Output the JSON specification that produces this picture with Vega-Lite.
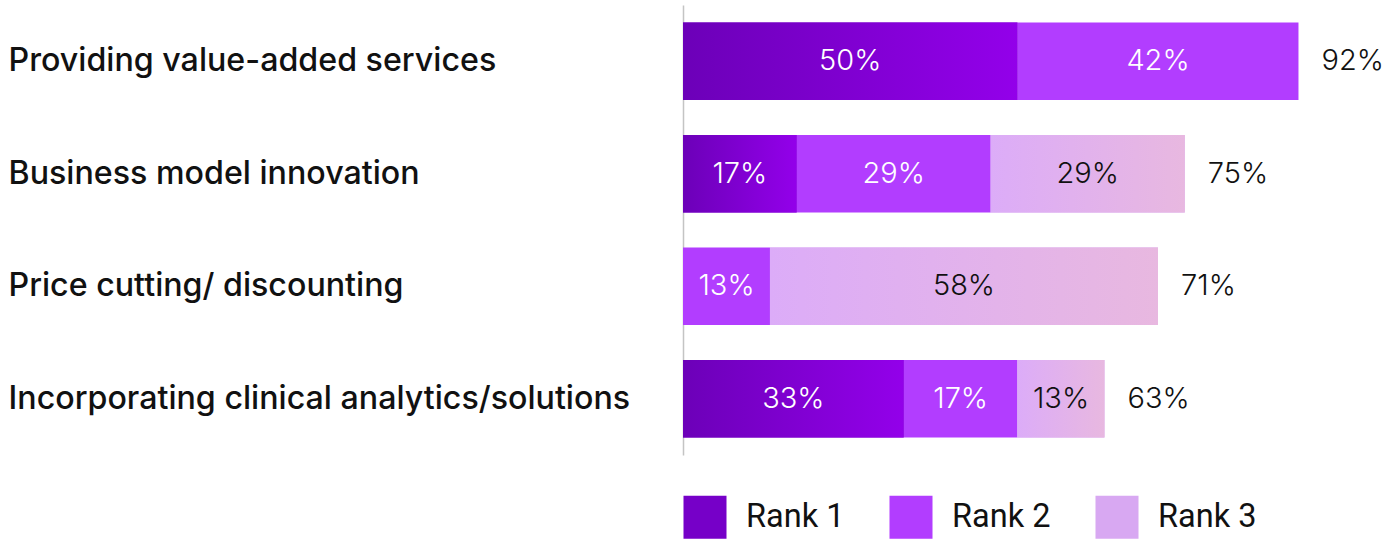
{
  "$schema": "https://vega.github.io/schema/vega-lite/v6.json",
  "autosize": {"type": "none"},
  "padding": {"left": 683, "top": 5, "right": 33, "bottom": 84},
  "width": 669,
  "height": 450,
  "background": "white",
  "datasets": {
    "bars": [
      {"cat": "Providing value-added services", "rank": "Rank 1", "value": 50, "label": "50%"},
      {"cat": "Providing value-added services", "rank": "Rank 2", "value": 42, "label": "42%"},
      {"cat": "Business model innovation", "rank": "Rank 1", "value": 17, "label": "17%"},
      {"cat": "Business model innovation", "rank": "Rank 2", "value": 29, "label": "29%"},
      {"cat": "Business model innovation", "rank": "Rank 3", "value": 29, "label": "29%"},
      {"cat": "Price cutting/ discounting", "rank": "Rank 2", "value": 13, "label": "13%"},
      {"cat": "Price cutting/ discounting", "rank": "Rank 3", "value": 58, "label": "58%"},
      {"cat": "Incorporating clinical analytics/solutions", "rank": "Rank 1", "value": 33, "label": "33%"},
      {"cat": "Incorporating clinical analytics/solutions", "rank": "Rank 2", "value": 17, "label": "17%"},
      {"cat": "Incorporating clinical analytics/solutions", "rank": "Rank 3", "value": 13, "label": "13%"}
    ],
    "totals": [
      {"cat": "Providing value-added services", "total": 92, "label": "92%"},
      {"cat": "Business model innovation", "total": 75, "label": "75%"},
      {"cat": "Price cutting/ discounting", "total": 71, "label": "71%"},
      {"cat": "Incorporating clinical analytics/solutions", "total": 63, "label": "63%"}
    ]
  },
  "config": {"view": {"stroke": null}},
  "encoding": {
    "y": {
      "field": "cat",
      "type": "nominal",
      "sort": ["Providing value-added services", "Business model innovation", "Price cutting/ discounting", "Incorporating clinical analytics/solutions"],
      "title": null,
      "scale": {"paddingInner": 0.31, "paddingOuter": 0.155},
      "axis": {
        "domain": true,
        "domainColor": "#c4c4c4",
        "domainWidth": 1.5,
        "ticks": false,
        "labelAlign": "left",
        "labelPadding": 675,
        "labelFont": "Inter",
        "labelFontSize": 32.2,
        "labelFontWeight": 500,
        "labelColor": "#111111",
        "labelLimit": 700
      }
    }
  },
  "layer": [
    {
      "data": {"name": "bars"},
      "mark": {"type": "bar"},
      "encoding": {
        "x": {"field": "value", "type": "quantitative", "stack": "zero", "scale": {"domain": [0, 100]}, "axis": null},
        "color": {
          "field": "rank",
          "type": "nominal",
          "scale": {"domain": ["Rank 1", "Rank 2", "Rank 3"], "range": ["#7600c8", "#b23dff", "#d8a8f2"]},
          "legend": {
            "orient": "none",
            "legendX": 0,
            "legendY": 490,
            "direction": "horizontal",
            "title": null,
            "symbolType": "square",
            "symbolSize": 1850,
            "symbolStrokeWidth": 0,
            "labelFont": "Roboto",
            "labelFontSize": 32.5,
            "labelColor": "#111111",
            "labelOffset": 19,
            "columnPadding": 44,
            "symbolOpacity": 1
          }
        }
      }
    },
    {
      "data": {"name": "bars"},
      "transform": [
        {"filter": "datum.rank === 'Rank 1'"}
      ],
      "mark": {"type": "bar", "color": {"gradient": "linear", "x1": 0, "y1": 0, "x2": 1, "y2": 0, "stops": [{"offset": 0, "color": "#6c00b8"}, {"offset": 1, "color": "#9300ea"}]}},
      "encoding": {
        "x": {"field": "value", "type": "quantitative", "stack": "zero"}
      }
    },
    {
      "data": {"name": "bars"},
      "transform": [
        {"stack": "value", "groupby": ["cat"], "sort": [{"field": "rank", "order": "ascending"}], "as": ["v0", "v1"]},
        {"filter": "datum.rank === 'Rank 3'"}
      ],
      "mark": {"type": "bar", "color": {"gradient": "linear", "x1": 0, "y1": 0, "x2": 1, "y2": 0, "stops": [{"offset": 0, "color": "#dcacf8"}, {"offset": 1, "color": "#e8b8e0"}]}},
      "encoding": {
        "x": {"field": "v0", "type": "quantitative"},
        "x2": {"field": "v1"}
      }
    },
    {
      "data": {"name": "bars"},
      "transform": [
        {"stack": "value", "groupby": ["cat"], "sort": [{"field": "rank", "order": "ascending"}], "as": ["v0", "v1"]},
        {"calculate": "(datum.v0 + datum.v1) / 2", "as": "mid"}
      ],
      "mark": {"type": "text", "font": "Inter", "fontSize": 29, "fontWeight": 300, "align": "center", "baseline": "middle"},
      "encoding": {
        "x": {"field": "mid", "type": "quantitative"},
        "text": {"field": "label", "type": "nominal"},
        "color": {"condition": {"test": "datum.rank === 'Rank 3'", "value": "#111111"}, "value": "#ffffff"}
      }
    },
    {
      "data": {"name": "totals"},
      "mark": {"type": "text", "font": "Inter", "fontSize": 29, "fontWeight": 300, "align": "left", "baseline": "middle", "dx": 23, "color": "#111111"},
      "encoding": {
        "x": {"field": "total", "type": "quantitative"},
        "text": {"field": "label", "type": "nominal"}
      }
    }
  ]
}
